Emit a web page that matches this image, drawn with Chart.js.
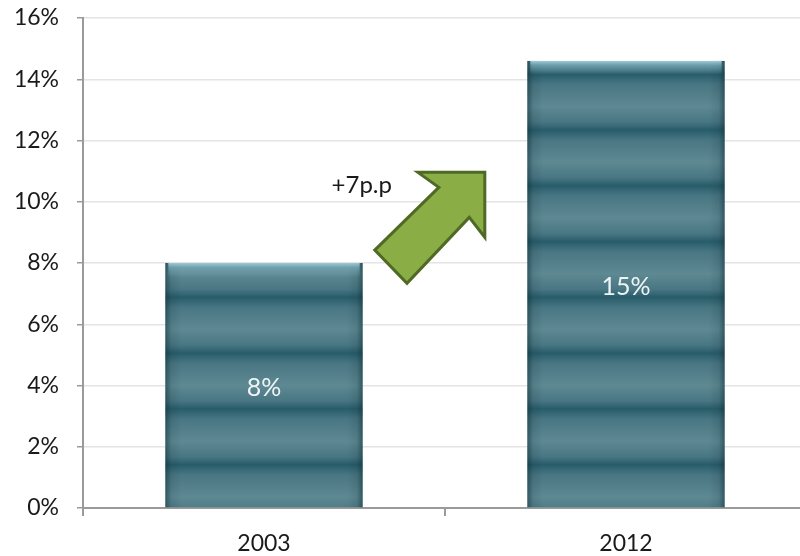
<!DOCTYPE html>
<html>
<head>
<meta charset="utf-8">
<script src="https://cdn.jsdelivr.net/npm/chart.js@4.4.1/dist/chart.umd.min.js"></script>
<style>
  html, body { margin: 0; padding: 0; background: #ffffff; overflow: hidden; }
  #wrap { width: 800px; height: 556px; position: relative; overflow: hidden; }
</style>
</head>
<body>
<div id="wrap"><canvas id="chart" width="807" height="556"></canvas></div>
<script>
// Share of the total, by year
const years = ['2003', '2012'];
const shares = [8.0, 14.6];
const yTicks = [0, 2, 4, 6, 8, 10, 12, 14, 16];
const changeLabel = '+7p.p';

const FONT = 'Lato, "Open Sans", "DejaVu Sans", sans-serif';

// Horizontal banded fill for the bars, repeating up from the zero line
function bandFill(context) {
  const chart = context.chart;
  const area = chart.chartArea;
  if (!area) return '#4f7f8c';
  const ctx = chart.ctx;
  const base = chart.scales.y.getPixelForValue(0);
  const period = 55.4;
  const phase = 43; // first dark band above the zero line
  const start = base - phase + period;      // a dark band below the base
  const end = area.top - period;
  const g = ctx.createLinearGradient(0, start, 0, end);
  const total = start - end;
  const n = Math.round(total / period);
  const dark = 'rgb(40,92,106)';
  const mid = 'rgb(72,118,130)';
  const light = 'rgb(94,137,147)';
  for (let i = 0; i < n; i++) {
    const a = i / n, s = 1 / n;
    g.addColorStop(a, dark);
    g.addColorStop(a + s * 0.14, mid);
    g.addColorStop(a + s * 0.42, light);
    g.addColorStop(a + s * 0.82, mid);
  }
  g.addColorStop(1, dark);
  return g;
}

// Bevel shading on the bars plus the value written in the middle of each
const barDecor = {
  id: 'barDecor',
  afterDatasetsDraw(chart) {
    const ctx = chart.ctx;
    const meta = chart.getDatasetMeta(0);
    meta.data.forEach((bar, i) => {
      const { x, y, base, width } = bar.getProps(['x', 'y', 'base', 'width'], true);
      const left = x - width / 2, right = x + width / 2;
      ctx.save();
      // darker side edges
      const hg = ctx.createLinearGradient(left, 0, right, 0);
      hg.addColorStop(0, 'rgba(10,40,50,0.5)');
      hg.addColorStop(0.03, 'rgba(10,40,50,0.12)');
      hg.addColorStop(0.08, 'rgba(10,40,50,0)');
      hg.addColorStop(0.92, 'rgba(10,40,50,0)');
      hg.addColorStop(0.97, 'rgba(10,40,50,0.12)');
      hg.addColorStop(1, 'rgba(10,40,50,0.5)');
      ctx.fillStyle = hg;
      ctx.fillRect(left, y, width, base - y);
      // light rim along the top
      const tg = ctx.createLinearGradient(0, y, 0, y + 14);
      tg.addColorStop(0, 'rgba(165,208,220,0.95)');
      tg.addColorStop(0.35, 'rgba(130,180,195,0.55)');
      tg.addColorStop(1, 'rgba(130,180,195,0)');
      ctx.fillStyle = tg;
      ctx.fillRect(left + 3, y, width - 6, 14);
      // value label
      ctx.fillStyle = '#eef4f6';
      ctx.font = '25px ' + FONT;
      ctx.textAlign = 'center';
      ctx.textBaseline = 'middle';
      ctx.fillText(Math.round(shares[i]) + '%', x, (y + base) / 2 + 3);
      ctx.restore();
    });
  }
};

// Block arrow between the two bars, placed in scale units
// (u = fraction of the way from the first category to the second, v = value in %)
const arrowShape = [
  [0.425, 10.96], [0.61, 10.96], [0.61, 8.84], [0.567, 9.49],
  [0.395, 7.34], [0.306, 8.42], [0.483, 10.47]
];
const arrowLabelAt = [0.27, 10.55];

const growthArrow = {
  id: 'growthArrow',
  afterDatasetsDraw(chart) {
    const { x: xs, y: ys } = chart.scales;
    const x0 = xs.getPixelForValue(0), x1 = xs.getPixelForValue(1);
    const px = u => x0 + u * (x1 - x0);
    const ctx = chart.ctx;
    ctx.save();
    ctx.beginPath();
    arrowShape.forEach(([u, v], i) => {
      const X = px(u), Y = ys.getPixelForValue(v);
      if (i === 0) ctx.moveTo(X, Y); else ctx.lineTo(X, Y);
    });
    ctx.closePath();
    ctx.fillStyle = '#8aad45';
    ctx.fill();
    ctx.lineWidth = 3;
    ctx.lineJoin = 'miter';
    ctx.strokeStyle = '#4e6a24';
    ctx.stroke();
    ctx.fillStyle = '#1a1a1a';
    ctx.font = '24px ' + FONT;
    ctx.textAlign = 'center';
    ctx.textBaseline = 'middle';
    ctx.fillText(changeLabel, px(arrowLabelAt[0]), ys.getPixelForValue(arrowLabelAt[1]));
    ctx.restore();
  }
};

new Chart(document.getElementById('chart'), {
  type: 'bar',
  data: {
    labels: years,
    datasets: [{
      data: shares,
      backgroundColor: bandFill,
      borderWidth: 0,
      barPercentage: 0.545,
      categoryPercentage: 1.0
    }]
  },
  options: {
    responsive: false,
    animation: false,
    devicePixelRatio: 1,
    layout: { padding: 0 },
    plugins: {
      legend: { display: false },
      tooltip: { enabled: false }
    },
    scales: {
      x: {
        offset: true,
        grid: {
          display: true,
          offset: true,
          drawOnChartArea: false,
          drawTicks: true,
          tickLength: 8,
          color: '#9a9a9a',
          lineWidth: 2
        },
        border: { display: true, color: '#9a9a9a', width: 2 },
        ticks: {
          color: '#1a1a1a',
          font: { family: FONT, size: 23 },
          padding: 14
        },
        afterFit(scale) { scale.height = 48; }
      },
      y: {
        min: 0,
        max: 16,
        afterBuildTicks(scale) { scale.ticks = yTicks.map(v => ({ value: v })); },
        grid: {
          color: '#e4e4e4',
          lineWidth: 1.5,
          drawTicks: true,
          tickLength: 6,
          tickColor: '#9a9a9a'
        },
        border: { display: true, color: '#9a9a9a', width: 2 },
        ticks: {
          color: '#1a1a1a',
          font: { family: FONT, size: 23 },
          padding: 18,
          callback: v => v + '%'
        },
        afterFit(scale) {
          scale.width = 83;
          // keep only a small margin above the top tick
          scale.paddingTop = 18;
          scale.paddingBottom = 0;
        }
      }
    }
  },
  plugins: [barDecor, growthArrow]
});
</script>
</body>
</html>
